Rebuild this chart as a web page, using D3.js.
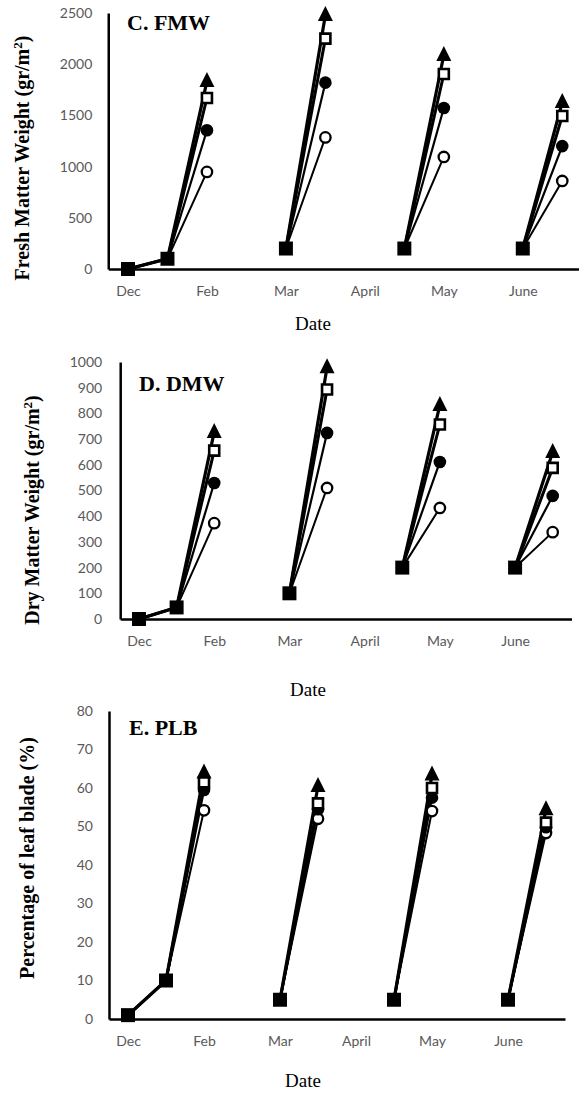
<!DOCTYPE html>
<html>
<head>
<meta charset="utf-8">
<script src="https://cdn.jsdelivr.net/npm/d3@7"></script>
<style>
  html, body { margin: 0; padding: 0; background: #fff; }
  svg { display: block; }
</style>
</head>
<body>
<svg id="chart" width="579" height="1093"></svg>
<script>
// ---------- DATA ----------
// category slots along the x axis (12 slots, labels on even slots)
const slots = d3.range(12);
const tickSlots = [0, 2, 4, 6, 8, 10];
const tickLabels = ["Dec", "Feb", "Mar", "April", "May", "June"];

// C. FMW  (gr/m2)
const fmwTriangle     = [0, 100, 1835, null, 200, 2480, null, 200, 2090, null, 200, 1630];
const fmwOpenSquare   = [0, 100, 1670, null, 200, 2250, null, 200, 1904, null, 200, 1494];
const fmwFilledCircle = [0, 100, 1355, null, 200, 1820, null, 200, 1572, null, 200, 1200];
const fmwOpenCircle   = [0, 100, 948,  null, 200, 1285, null, 200, 1094, null, 200, 860];
const fmwStart        = [0, 100, null, null, 200, null, null, 200, null, null, 200, null];
const fmwTicks = [0, 500, 1000, 1500, 2000, 2500];

// D. DMW  (gr/m2)
const dmwTriangle     = [0, 45, 728, null, 100, 980, null, 200, 833, null, 200, 650];
const dmwOpenSquare   = [0, 45, 655, null, 100, 893, null, 200, 757, null, 200, 588];
const dmwFilledCircle = [0, 45, 529, null, 100, 724, null, 200, 611, null, 200, 479];
const dmwOpenCircle   = [0, 45, 373, null, 100, 510, null, 200, 432, null, 200, 338];
const dmwStart        = [0, 45, null, null, 100, null, null, 200, null, null, 200, null];
const dmwTicks = [0, 100, 200, 300, 400, 500, 600, 700, 800, 900, 1000];

// E. PLB  (%)
const plbTriangle     = [1, 10, 64, null, 5, 60.5, null, 5, 63.5, null, 5, 54.5];
const plbOpenSquare   = [1, 10, 61.5, null, 5, 56, null, 5, 60, null, 5, 51];
const plbFilledCircle = [1, 10, 59.5, null, 5, 54.5, null, 5, 57.5, null, 5, 49.8];
const plbOpenCircle   = [1, 10, 54.2, null, 5, 52, null, 5, 54, null, 5, 48.3];
const plbStart        = [1, 10, null, null, 5, null, null, 5, null, null, 5, null];
const plbTicks = [0, 10, 20, 30, 40, 50, 60, 70, 80];

// ---------- LAYOUT ----------
const panels = [
  { label: "C. FMW", yTitle: "Fresh Matter Weight (gr/m", sup: "2", yTitleEnd: ")",
    series: [fmwOpenCircle, fmwFilledCircle, fmwOpenSquare, fmwTriangle], start: fmwStart,
    ticks: fmwTicks, yMax: 2500,
    x0: 108.25, x1: 582, yBottom: 269, yTop: 13, tickPad: 16,
    labelX: 127, labelY: 30, titleX: 22, titleY: 158, dateX: 313, dateY: 330 },
  { label: "D. DMW", yTitle: "Dry Matter Weight (gr/m", sup: "2", yTitleEnd: ")",
    series: [dmwOpenCircle, dmwFilledCircle, dmwOpenSquare, dmwTriangle], start: dmwStart,
    ticks: dmwTicks, yMax: 1000,
    x0: 120.2, x1: 571.5, yBottom: 619, yTop: 362, tickPad: 18,
    labelX: 139, labelY: 391, titleX: 32, titleY: 510, dateX: 308, dateY: 696 },
  { label: "E. PLB", yTitle: "Percentage of leaf blade (%)", sup: null, yTitleEnd: "",
    series: [plbOpenCircle, plbFilledCircle, plbOpenSquare, plbTriangle], start: plbStart,
    ticks: plbTicks, yMax: 80,
    x0: 109, x1: 565, yBottom: 1019, yTop: 711, tickPad: 16,
    labelX: 129, labelY: 735, titleX: 27, titleY: 858, dateX: 303, dateY: 1087 }
];

const svg = d3.select("#chart");
const tickFont = "Lato, 'Open Sans', sans-serif";
const serif = "'Liberation Serif', 'DejaVu Serif', serif";

// marker styles per series (open circle, filled circle, open square, triangle)
const markerDefs = [
  { path: d3.symbol(d3.symbolCircle, 85)(), fill: "#fff", stroke: 2.3, lw: 2 },
  { path: d3.symbol(d3.symbolCircle, 125)(), fill: "#000", stroke: 0, lw: 2.2 },
  { path: "M-5,-5H5V5H-5Z", fill: "#fff", stroke: 2.6, lw: 3 },
  { path: "M0,-9L7.5,6L-7.5,6Z", fill: "#000", stroke: 0, lw: 3.2 }
];
const startSquare = "M-7,-7H7V7H-7Z";

panels.forEach(p => {
  const x = d3.scaleLinear().domain([-0.5, 11.5]).range([p.x0, p.x1]);
  const y = d3.scaleLinear().domain([0, p.yMax]).range([p.yBottom, p.yTop]);
  const g = svg.append("g");

  // lines
  const line = d3.line()
    .defined(d => d != null)
    .x((d, i) => x(slots[i]))
    .y(d => y(d));
  p.series.forEach((s, k) => {
    g.append("path").datum(s)
      .attr("d", line)
      .attr("fill", "none")
      .attr("stroke", "#000")
      .attr("stroke-width", markerDefs[k].lw)
      .attr("stroke-linejoin", "round");
  });

  // peak markers (slots where the value is not a start point)
  p.series.forEach((s, k) => {
    const m = markerDefs[k];
    g.selectAll(null)
      .data(slots.filter(i => s[i] != null && p.start[i] == null))
      .join("path")
      .attr("transform", i => `translate(${x(i)},${y(s[i])})`)
      .attr("d", m.path)
      .attr("fill", m.fill)
      .attr("stroke", m.stroke ? "#000" : "none")
      .attr("stroke-width", m.stroke);
  });

  // start markers (filled squares)
  g.selectAll(null)
    .data(slots.filter(i => p.start[i] != null))
    .join("path")
    .attr("transform", i => `translate(${x(i)},${y(p.start[i])})`)
    .attr("d", startSquare)
    .attr("fill", "#000");

  // y axis
  const ya = g.append("g")
    .attr("transform", `translate(${x(-0.5)},0)`)
    .call(d3.axisLeft(y).tickValues(p.ticks).tickSize(0).tickPadding(p.tickPad).tickFormat(d3.format("d")));
  ya.select(".domain").attr("stroke", "#000").attr("stroke-width", 2.5);
  ya.selectAll("text").attr("font-family", tickFont).attr("font-size", 14).attr("fill", "#595959");

  // x axis
  const xa = g.append("g")
    .attr("transform", `translate(0,${p.yBottom})`)
    .call(d3.axisBottom(x).tickValues(tickSlots).tickSize(0).tickPadding(17)
      .tickFormat((d, i) => tickLabels[i]));
  xa.select(".domain").attr("stroke", "#000").attr("stroke-width", 2.5);
  xa.selectAll("text").attr("font-family", tickFont).attr("font-size", 14).attr("fill", "#595959");

  // panel label
  g.append("text")
    .attr("x", p.labelX).attr("y", p.labelY)
    .attr("font-family", serif).attr("font-weight", "bold").attr("font-size", 22)
    .text(p.label);

  // y title
  const t = g.append("text")
    .attr("transform", `translate(${p.titleX},${p.titleY}) rotate(-90)`)
    .attr("text-anchor", "middle")
    .attr("dy", "0.35em")
    .attr("font-family", serif).attr("font-weight", "bold").attr("font-size", 20);
  t.append("tspan").text(p.yTitle);
  if (p.sup) {
    t.append("tspan").attr("dy", -7).attr("font-size", 13).text(p.sup);
    t.append("tspan").attr("dy", 7).text(p.yTitleEnd);
  }

  // x title
  g.append("text")
    .attr("x", p.dateX).attr("y", p.dateY)
    .attr("text-anchor", "middle")
    .attr("font-family", serif).attr("font-size", 19)
    .text("Date");
});
</script>
</body>
</html>
